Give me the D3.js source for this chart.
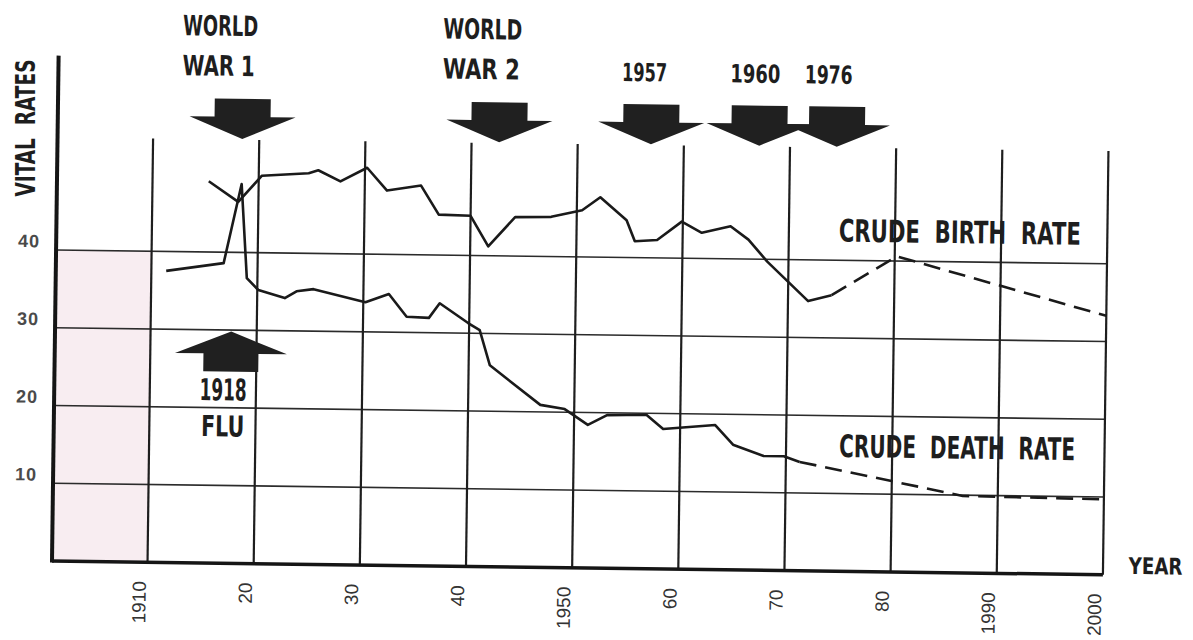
<!DOCTYPE html>
<html>
<head>
<meta charset="utf-8">
<script src="https://cdnjs.cloudflare.com/ajax/libs/d3/7.8.5/d3.min.js"></script>
<style>
  html, body { margin: 0; padding: 0; background: #fff; }
  svg { display: block; }
  .ink { font-family: "Liberation Sans Narrow", "DejaVu Sans Condensed", "Roboto", sans-serif; font-weight: bold; fill: #1e1e1e; white-space: pre; }
</style>
</head>
<body>
<svg id="chart" width="1193" height="640"></svg>
<script>
// decade grid + tick labels
const tickYears = [1910, 1920, 1930, 1940, 1950, 1960, 1970, 1980, 1990, 2000];
const tickLabels = ["1910", "20", "30", "40", "1950", "60", "70", "80", "1990", "2000"];
const rateTicks = [10, 20, 30, 40];

// crude birth rate (solid part, then projection)
const birthYears = [1915.3, 1918.1, 1920.3, 1924.7, 1925.6, 1927.7, 1930.2, 1932.1, 1935.3, 1937.0,
  1940.0, 1941.7, 1944.2, 1947.6, 1950.5, 1952.2, 1954.7, 1955.5, 1957.6, 1959.9,
  1961.8, 1964.5, 1966.2, 1968.0, 1971.9, 1974.1];
const birthRate = [49.1, 46.5, 49.9, 50.3, 50.7, 49.3, 51.1, 48.2, 48.9, 45.2,
  45.1, 41.2, 45.0, 45.1, 46.0, 47.7, 44.8, 42.1, 42.3, 44.7,
  43.3, 44.2, 42.5, 39.7, 34.7, 35.5];
const birthProjYears = [1974.1, 1980.2, 2000];
const birthProj = [35.5, 40.6, 33.3];

// crude death rate (solid part, then projection)
const deathYears = [1911.4, 1916.8, 1918.4, 1919.0, 1920.1, 1922.6, 1923.7, 1925.3, 1930.2, 1932.4,
  1934.1, 1936.2, 1937.2, 1939.9, 1941.0, 1942.0, 1946.8, 1949.1, 1951.3, 1953.1,
  1956.8, 1958.4, 1963.3, 1965.0, 1967.9, 1969.8, 1971.3];
const deathRate = [37.5, 38.6, 48.8, 36.7, 35.2, 34.2, 35.1, 35.4, 33.8, 34.9,
  32.0, 31.9, 33.8, 31.3, 30.4, 25.9, 20.9, 20.4, 18.4, 19.7,
  19.8, 18.0, 18.6, 16.1, 14.7, 14.7, 14.0];
const deathProjYears = [1971.3, 1986.7, 2000];
const deathProj = [14.0, 9.9, 9.7];

// events marked with arrows
const eventYears = [1918.4, 1942.6, 1956.9, 1967.1, 1974.4];
const eventLabels = [["WORLD", "WAR 1"], ["WORLD", "WAR 2"], ["1957"], ["1960"], ["1976"]];
const eventLabelYears = [1912.7, 1937.2, 1954.1, 1964.3, 1971.3];
const fluYear = 1917.6;
const fluLabel = ["1918", "FLU"];
const fluLabelYear = 1914.7;

const svg = d3.select("#chart");
// the scanned page sits slightly skewed
const g = svg.append("g").attr("transform", "translate(52,561) rotate(0.75)");

const x = d3.scaleLinear().domain([1901, 2000]).range([0, 1051]);
const y = d3.scaleLinear().domain([0, 65]).range([0, -505.4]);

g.append("rect")
  .attr("x", x(1901) + 2)
  .attr("y", y(40))
  .attr("width", x(1910) - x(1901) - 2)
  .attr("height", y(0) - y(40))
  .attr("fill", "#f8edf1");

g.selectAll("line.h")
  .data(rateTicks)
  .join("line")
  .attr("class", "h")
  .attr("x1", x(1901))
  .attr("x2", x(2000))
  .attr("y1", (d) => y(d))
  .attr("y2", (d) => y(d))
  .attr("stroke", "#2b2b2b")
  .attr("stroke-width", 1.6);

g.selectAll("line.v")
  .data(tickYears)
  .join("line")
  .attr("class", "v")
  .attr("x1", (d) => x(d))
  .attr("x2", (d) => x(d))
  .attr("y1", y(0))
  .attr("y2", y(54.5))
  .attr("stroke", "#1e1e1e")
  .attr("stroke-width", 2.2);

// axes
g.append("line")
  .attr("x1", x(1901)).attr("x2", x(1901))
  .attr("y1", y(0) + 1.5).attr("y2", y(65))
  .attr("stroke", "#151515").attr("stroke-width", 4);
g.append("line")
  .attr("x1", x(1901)).attr("x2", x(2000))
  .attr("y1", y(0)).attr("y2", y(0))
  .attr("stroke", "#151515").attr("stroke-width", 3.5);

const xAxis = g.append("g")
  .call(d3.axisBottom(x).tickValues(tickYears).tickFormat((d, i) => tickLabels[i]).tickSize(0))
  .attr("font-family", "'Liberation Sans', Arial, sans-serif")
  .attr("font-size", 19);
xAxis.select(".domain").remove();
xAxis.selectAll("text")
  .attr("fill", "#333")
  .attr("transform", "rotate(-90)")
  .attr("text-anchor", "end")
  .attr("x", -19)
  .attr("y", -2)
  .attr("dy", 0);

const yAxis = g.append("g")
  .call(d3.axisLeft(y).tickValues(rateTicks).tickSize(0).tickFormat(d3.format("d")))
  .attr("font-family", "'Liberation Sans', Arial, sans-serif")
  .attr("font-size", 18)
  .attr("font-weight", "bold");
yAxis.select(".domain").remove();
yAxis.selectAll("text")
  .attr("fill", "#4a4a4a")
  .attr("x", -16)
  .attr("dy", -3)
  .attr("letter-spacing", 1);

// data lines
const line = d3.line().x((d) => x(d[0])).y((d) => y(d[1]));
const drawLine = (xs, ys, dashed) =>
  g.append("path")
    .datum(d3.zip(xs, ys))
    .attr("fill", "none")
    .attr("stroke", "#1a1a1a")
    .attr("stroke-width", 2.6)
    .attr("stroke-linejoin", "round")
    .attr("stroke-dasharray", dashed ? "17,9" : null)
    .attr("d", line);

drawLine(birthYears, birthRate, false);
drawLine(birthProjYears, birthProj, true);
drawLine(deathYears, deathRate, false);
drawLine(deathProjYears, deathProj, true);

// block arrows
function arrowPath(cx, tip, dir, shaftHalf, headHalf) {
  const b = tip + dir * 22;
  const t = tip + dir * 40;
  return `M${cx - shaftHalf},${t}L${cx + shaftHalf},${t}L${cx + shaftHalf},${b}L${cx + headHalf},${b}` +
    `L${cx},${tip}L${cx - headHalf},${b}L${cx - shaftHalf},${b}Z`;
}

g.selectAll("path.ev")
  .data(eventYears)
  .join("path")
  .attr("class", "ev")
  .attr("d", (d) => arrowPath(x(d), y(54.6), -1, 28, 53))
  .attr("fill", "#202020");

g.append("path")
  .attr("d", arrowPath(x(fluYear), y(29.8), 1, 27.5, 56))
  .attr("fill", "#202020");

// lettering
function label(parent, txt, px, py, size, width) {
  return parent.append("text")
    .attr("class", "ink")
    .attr("x", px)
    .attr("y", py)
    .attr("font-size", size)
    .attr("textLength", width)
    .attr("lengthAdjust", "spacingAndGlyphs")
    .text(txt);
}

const evWidths = [[75, 72], [79, 77], [45], [50], [48]];
eventLabels.forEach((lines, i) => {
  const n = lines.length;
  lines.forEach((t, j) => {
    const size = n > 1 ? 28 : 25;
    label(g, t, x(eventLabelYears[i]), y(62.7) - (n - 1 - j) * 40, size, evWidths[i][j]);
  });
});

label(g, fluLabel[0], x(fluLabelYear), y(20.95), 30, 47);
label(g, fluLabel[1], x(fluLabelYear) + 2, y(20.95) + 36, 29, 43);

label(g, "CRUDE  BIRTH  RATE", x(1974.7), y(42.4), 31, 242);
label(g, "CRUDE  DEATH  RATE", x(1975.0), y(14.7), 31, 236);
label(g, "YEAR", x(2002.4), y(0.15), 23, 54);

svg.append("text")
  .attr("class", "ink")
  .attr("transform", "translate(35,128) rotate(-90)")
  .attr("text-anchor", "middle")
  .attr("font-size", 26)
  .attr("textLength", 137)
  .attr("lengthAdjust", "spacingAndGlyphs")
  .text("VITAL  RATES");
</script>
</body>
</html>
